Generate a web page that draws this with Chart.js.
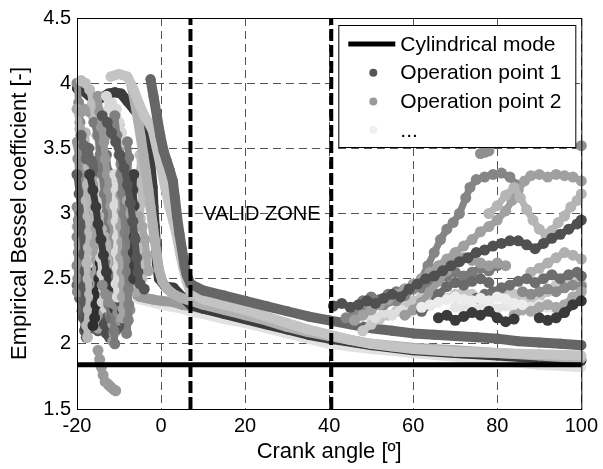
<!DOCTYPE html>
<html>
<head>
<title>Empirical Bessel coefficient</title>
<script src="https://cdn.jsdelivr.net/npm/chart.js"></script>
<style>
  body { margin: 0; background: #fff; }
  #chart { display: block; }
</style>
</head>
<body>
<canvas id="chart" width="603" height="469"></canvas>
<script>
// axis limits and ticks
const xLimits = [-20, 100];
const yLimits = [1.5, 4.5];
const xStep = 20;
const yStep = 0.5;

// reference lines
const cylindricalMode = 1.84;
const validZone = [7, 40.5];
const validZoneLabel = { text: 'VALID ZONE', x: 24, y: 3 };

// legend entries
const legendLabels = ['Cylindrical mode', 'Operation point 1', 'Operation point 2', '...'];
const legendColors = ['#000000', '#555555', '#9a9a9a', '#f0f0f0'];

// operation points: [crank angle, coefficient]
// trails falling into the bundle
const opB = [[-2.5,4.03],[-1.8,3.9],[-1,3.75],[-0.2,3.6],[0.6,3.48],[1.4,3.4],[2.1,3.33],[2.8,3.25],[3.3,3.12],[3.8,2.98],[4.4,2.84],[5,2.72],[5.6,2.6],[6.1,2.53],[7,2.46],[10,2.41],[15,2.37],[20,2.33],[25,2.29],[30,2.25],[35,2.21],[40,2.18],[45,2.15],[50,2.12],[55,2.1],[60,2.08],[65,2.07],[70,2.06],[75,2.05],[80,2.04],[85,2.02],[90,2.01],[95,2.0],[100,1.99]];
const opC = [[-12,4.05],[-10,4.07],[-8,4.05],[-6.5,3.95],[-5.2,3.84],[-4,3.75],[-3,3.7],[-2,3.64],[-1,3.5],[0,3.35],[1,3.2],[2,3.05],[3,2.93],[3.7,2.84],[4.5,2.7],[5.3,2.58],[6.1,2.48],[7,2.4],[10,2.34],[15,2.3],[20,2.26],[25,2.21],[30,2.16],[35,2.11],[40,2.07],[45,2.03],[50,2.0],[55,1.98],[60,1.96],[70,1.94],[80,1.93],[90,1.92],[100,1.91]];
const opF = [[-7,3.98],[-6.2,3.85],[-5.5,3.72],[-4.8,3.58],[-4.2,3.45],[-3.6,3.32],[-3,3.18],[-2.5,3.05],[-2,2.92],[-1.5,2.8],[-1,2.68],[-0.5,2.57],[0.3,2.48],[1.5,2.42],[3,2.38],[5,2.35],[7,2.33],[10,2.3],[15,2.26],[20,2.22],[25,2.18],[30,2.13],[35,2.09],[40,2.06],[50,2.0],[60,1.97],[70,1.95],[80,1.93],[90,1.91],[100,1.89]];
const opA = [[-20,3.96],[-18.5,3.94],[-17,3.9],[-15.5,3.88],[-14,3.89],[-12.5,3.92],[-11,3.93],[-9.5,3.92],[-8,3.86],[-6.5,3.8],[-5,3.74],[-4,3.68],[-3,3.52],[-2.5,3.36],[-2,3.2],[-1.8,3.05],[-1.5,2.9],[-1.2,2.75],[-1,2.62],[-0.5,2.5],[1,2.44],[3,2.43],[5,2.36],[7,2.3],[10,2.27],[15,2.23],[20,2.19],[25,2.15],[30,2.11],[35,2.07],[40,2.04],[50,1.99],[60,1.95],[70,1.93],[80,1.91],[90,1.89],[100,1.87]];
const opD = [[-20,3.55],[-19,3.4],[-18.5,3.25],[-18,3.1],[-17.3,2.95],[-16.5,2.82],[-15.5,2.7],[-14.5,2.6],[-13,2.52],[-11.5,2.48],[-10,2.45],[-8.5,2.42],[-7,2.4],[-5,2.36],[-2,2.34],[0,2.33],[3,2.32],[5,2.3],[7,2.29],[10,2.27],[15,2.24],[20,2.2],[25,2.16],[30,2.12],[35,2.08],[40,2.05],[45,2.02],[50,1.99],[60,1.96],[70,1.93],[80,1.92],[90,1.9],[100,1.88]];
const opE = [[-8,2.38],[-5,2.34],[0,2.3],[5,2.27],[7,2.25],[10,2.23],[15,2.19],[20,2.16],[25,2.12],[30,2.08],[35,2.04],[40,2.0],[45,1.98],[50,1.96],[60,1.93],[70,1.9],[80,1.87],[90,1.84],[100,1.82]];

// scattered start of the cycle
const opG = [[-16,3.7],[-15,3.6],[-14.5,3.45],[-14,3.3],[-13.5,3.15],[-13,3.0],[-12.6,2.85],[-12.2,2.7],[-11.8,2.55],[-11.5,2.4],[-11.3,2.25],[-11.2,2.1],[-11,2.0]];
const opH = [[-15,1.95],[-14.6,1.88],[-14.2,1.82],[-13.8,1.76],[-13.3,1.71],[-12.6,1.69],[-12,1.67],[-11.3,1.65],[-10.8,1.64]];
const opI = [[-20,3.3],[-19.5,3.15],[-19,3.0],[-18.7,2.85],[-18.3,2.7],[-18,2.55],[-17.5,2.42],[-17,2.3],[-16.5,2.2],[-16,2.12],[-15,2.1],[-14,2.14],[-13,2.2]];
const opJ = [[-20,3.8],[-19.3,3.65],[-18.5,3.52],[-17.5,3.45],[-16.5,3.38],[-15.5,3.3],[-14.5,3.2],[-13.5,3.1],[-12.5,2.98],[-11.5,2.86],[-10.5,2.74],[-9.5,2.62],[-8.5,2.52],[-7.5,2.45],[-6,2.4]];
const opK = [[-17,3.3],[-16.2,3.18],[-15.5,3.05],[-15,2.92],[-14.3,2.8],[-13.7,2.68],[-13,2.55],[-12.3,2.44],[-11.7,2.35],[-11,2.27]];
const opL = [[-20,2.9],[-19.3,2.78],[-18.6,2.66],[-18,2.55],[-17.2,2.47],[-16.3,2.4],[-15.3,2.35],[-14.3,2.3],[-13.3,2.27],[-12,2.25],[-10.5,2.28],[-9,2.3]];
const opM = [[-11,3.75],[-10.5,3.6],[-10,3.45],[-9.6,3.3],[-9.2,3.15],[-8.9,3.0],[-8.6,2.85],[-8.3,2.7],[-8,2.55],[-7.8,2.42],[-7.7,2.3],[-7.8,2.18],[-8.2,2.08]];
const opN = [[-19,4.02],[-18,4.0],[-17,3.95],[-16.3,3.85],[-15.8,3.72],[-15.3,3.6],[-14.6,3.5],[-13.8,3.42],[-13,3.35],[-12.2,3.25],[-11.4,3.12],[-10.7,2.98],[-10,2.85],[-9.4,2.72],[-8.8,2.6],[-8.2,2.5],[-7.5,2.45]];
const opO = [[-20,2.45],[-19.4,2.35],[-18.8,2.25],[-18.2,2.2],[-17.5,2.15],[-16.8,2.12]];
const opP = [[-19,3.78],[-18,3.8],[-17,3.78],[-16,3.74],[-15,3.68],[-14,3.62],[-13,3.6],[-12,3.62],[-11,3.66],[-10,3.68]];
const opQ = [[-14,3.75],[-12.8,3.7],[-11.8,3.62],[-10.8,3.55],[-9.8,3.45],[-8.8,3.35],[-8,3.22],[-7.3,3.08],[-6.7,2.94],[-6.2,2.8],[-5.8,2.66],[-5.5,2.55],[-5,2.46],[-4,2.42]];
const opS = [[-17,2.45],[-16,2.35],[-15,2.28],[-14,2.22],[-13,2.2],[-12,2.25],[-10,2.3],[-8,2.35]];
const opT1 = [[-20,4.0],[-19.6,3.85],[-19.3,3.7],[-19.5,3.55],[-19.8,3.42],[-19.6,3.28],[-19.2,3.15],[-19.5,3.02],[-19.8,2.9],[-19.5,2.76],[-19.2,2.62],[-19.6,2.5],[-19.9,2.4]];
const opT2 = [[-18,3.62],[-17.6,3.48],[-17.2,3.36],[-17.5,3.22],[-17.8,3.1],[-17.4,2.98],[-17,2.86],[-17.3,2.74],[-17.7,2.62],[-17.4,2.5],[-17,2.38],[-17.3,2.26],[-17.7,2.14],[-17.5,2.05]];
const opT3 = [[-16,2.55],[-16.4,2.44],[-16.8,2.33],[-17.2,2.25],[-17.6,2.18],[-18,2.12]];
const opT4 = [[-15,3.9],[-14.6,3.78],[-14.2,3.66],[-13.6,3.55],[-13.3,3.42],[-12.8,3.3],[-12.5,3.18],[-12,3.06],[-11.6,2.94],[-11.2,2.82],[-10.9,2.7],[-10.6,2.58],[-10.3,2.46],[-10,2.36],[-9.8,2.26],[-9.6,2.18]];
const opT5 = [[-14,3.5],[-13.6,3.38],[-14,3.26],[-14.4,3.14],[-14,3.02],[-13.6,2.9],[-14,2.78],[-14.4,2.66],[-14.1,2.54],[-13.7,2.42],[-14,2.32]];
const opT6 = [[-13,3.45],[-12.6,3.32],[-12.9,3.2],[-12.3,3.1],[-12.6,2.98],[-12.2,2.86],[-12.5,2.74],[-12.1,2.62],[-12.4,2.5],[-12,2.4],[-12.3,2.3],[-12,2.2]];
const opT7 = [[-10,3.5],[-9.6,3.38],[-9.3,3.26],[-9.6,3.14],[-9.3,3.02],[-9.6,2.9],[-9.3,2.78],[-9.6,2.66],[-9.3,2.55],[-9,2.45],[-9.2,2.36],[-9,2.27],[-9.3,2.2]];
const opT8 = [[-6.5,3.3],[-6.7,3.18],[-6.4,3.06],[-6.7,2.94],[-6.4,2.82],[-6.6,2.7],[-6.3,2.6],[-6.5,2.5]];
const opT9 = [[-5,3.45],[-4.8,3.33],[-5,3.2],[-4.7,3.08],[-4.9,2.96],[-4.6,2.84],[-4.8,2.72],[-4.5,2.6],[-4.6,2.5]];
const opT10 = [[-8,3.55],[-7.7,3.43],[-7.9,3.3],[-7.6,3.18],[-7.8,3.06],[-7.5,2.94],[-7.7,2.82],[-7.4,2.7],[-7.6,2.58],[-7.3,2.48]];
const opT11 = [[-18.5,2.9],[-18.1,2.8],[-18.4,2.68],[-18.1,2.56],[-18.4,2.44],[-18.2,2.32],[-18.5,2.2],[-18.2,2.1],[-17.8,2.05]];
const opT12 = [[-16,3.25],[-15.6,3.13],[-15.9,3.01],[-15.5,2.89],[-15.8,2.77],[-15.4,2.65],[-15.7,2.53],[-15.3,2.42],[-15.5,2.32],[-15.2,2.22],[-15,2.12]];
const opT13 = [[-11,3.3],[-10.7,3.18],[-11,3.06],[-10.7,2.94],[-10.4,2.82],[-10.7,2.7],[-10.4,2.58],[-10.7,2.46],[-10.4,2.36]];
const opT14 = [[-14.5,2.62],[-14.8,2.5],[-15.2,2.4],[-15.5,2.3],[-15.8,2.2],[-16.2,2.14]];
const opT15 = [[-20,3.05],[-19.7,2.95],[-20,2.82],[-19.7,2.7],[-20,2.6],[-19.8,2.5]];
const opT16 = [[-12.5,2.3],[-12,2.22],[-11.5,2.15],[-11.2,2.08],[-11.5,2.02]];
const opT17 = [[-10,2.4],[-9.6,2.32],[-9.2,2.25],[-8.8,2.18],[-8.5,2.12]];
const opU1 = [[-14,2.45],[-13.2,2.38],[-12.5,2.32],[-11.8,2.36],[-11,2.3],[-10.3,2.24],[-9.6,2.3],[-8.8,2.25],[-8,2.2],[-7.4,2.26]];
const opU2 = [[-17,3.15],[-16.3,3.05],[-15.7,2.95],[-14.8,2.98],[-14.2,2.88],[-13.4,2.82],[-12.8,2.74],[-12.2,2.78],[-11.6,2.68],[-11,2.6],[-10.3,2.64],[-9.7,2.55],[-9,2.5]];
const opU3 = [[-19,3.6],[-18.4,3.52],[-17.8,3.42],[-17.2,3.5],[-16.6,3.4],[-16,3.32],[-15.4,3.4],[-14.8,3.3]];
const opU4 = [[-13,3.9],[-12.4,3.8],[-11.8,3.85],[-11.2,3.75],[-10.6,3.8],[-10,3.7],[-9.4,3.62],[-8.8,3.55]];
const opU5 = [[-13.5,2.15],[-13,2.08],[-12.3,2.05],[-11.6,2.12],[-10.8,2.1],[-10.2,2.17]];
const opU6 = [[-8,3.1],[-7.2,3.0],[-6,2.9],[-5.4,2.98],[-4.5,2.9],[-3.8,2.8],[-3.4,2.68],[-3,2.56]];

// unstable end of the cycle
const opR1 = [[41,2.29],[43,2.31],[45,2.28],[47,2.3],[49,2.33],[51,2.31],[53,2.35],[55,2.38],[57,2.36],[59,2.42],[61,2.46],[63,2.5],[65,2.52],[67,2.56],[69,2.6],[71,2.63],[73,2.66],[75,2.7],[77,2.72],[79,2.75],[81,2.77],[83,2.79],[85,2.79],[87,2.76],[89,2.73],[91,2.77],[93,2.81],[95,2.84],[97,2.88],[99,2.92],[100,2.95]];
const opR2 = [[44,2.2],[47,2.24],[50,2.28],[53,2.3],[56,2.33],[58,2.37],[60,2.42],[62,2.5],[63.5,2.6],[65,2.7],[66.5,2.8],[68,2.88],[69.5,2.93],[71,3.0],[72.5,3.12],[73.5,3.2],[75,3.26],[77,3.28],[79,3.3],[81,3.31],[83,3.28],[84.5,3.22]];
const opR3 = [[46,2.18],[48,2.22],[50,2.26],[52,2.3],[54,2.34],[56,2.38],[58,2.42],[60,2.46],[62,2.5],[64,2.55],[66,2.6],[68,2.65],[70,2.7],[72,2.75],[74,2.8],[76,2.86],[78,2.9],[80,2.95],[82,3.02],[83.5,3.1],[85,3.18],[86.5,3.25],[88,3.29],[90,3.3],[92,3.28],[94,3.3],[96,3.29],[98,3.28],[100,3.25]];
const opR4 = [[78,3.0],[80,3.06],[82,3.14],[84,3.2],[85.5,3.12],[87,3.03],[88.5,2.95],[90,2.88],[91.5,2.84],[93,2.87],[94.5,2.93],[96,2.98],[97.5,3.05],[99,3.1],[100,3.15]];
const opR6 = [[48,2.1],[50,2.15],[52,2.19],[54,2.22],[56,2.25],[58,2.3],[60,2.33],[62,2.36],[64,2.38],[66,2.36],[68,2.35],[70,2.38],[72,2.4],[74,2.38],[76,2.35],[78,2.37],[80,2.4],[82,2.42],[84,2.38],[86,2.36],[88,2.33],[90,2.36],[92,2.4],[94,2.45],[96,2.5],[98,2.48],[100,2.46]];
const opR7 = [[46,2.28],[48,2.33],[50,2.36],[52,2.34],[54,2.38],[56,2.4],[58,2.42],[60,2.45],[62,2.43],[64,2.47],[66,2.5],[68,2.52],[70,2.55],[72,2.52],[74,2.55],[76,2.58],[78,2.56],[80,2.6]];
const opR8 = [[66,2.2],[68,2.22],[70,2.18],[72,2.21],[74,2.24],[76,2.22],[78,2.25],[80,2.2],[82,2.17],[84,2.19]];
const opR9 = [[90,2.2],[92,2.18],[94,2.2],[96,2.24],[98,2.3],[100,2.33]];
const opR10 = [[75,2.35],[77,2.38],[79,2.4],[81,2.43],[83,2.45],[85,2.48],[87,2.5],[89,2.47],[91,2.5],[93,2.53],[95,2.5],[97,2.53],[99,2.55],[100,2.52]];
const opR11 = [[62,2.28],[64,2.3],[66,2.32],[68,2.34],[70,2.36],[72,2.34],[74,2.33],[76,2.35],[78,2.33],[80,2.36],[82,2.34],[84,2.31],[86,2.3]];
const opR12 = [[84,2.22],[86,2.26],[88,2.25],[90,2.28],[92,2.3],[94,2.28],[96,2.3],[98,2.36],[100,2.4]];
const opR13 = [[76,3.46],[77,3.47],[78,3.48]];
const opR14 = [[100,3.52]];
const opR15 = [[47,2.2],[49,2.22],[51,2.2],[53,2.24],[55,2.22],[57,2.26],[59,2.24],[61,2.27]];
const opV1 = [[58,2.22],[60,2.26],[62,2.32],[64,2.4],[66,2.48],[68,2.56],[70,2.62],[72,2.66],[74,2.64],[76,2.62],[78,2.6],[80,2.62],[82,2.6]];
const opV2 = [[62,2.25],[64,2.3],[66,2.38],[68,2.44],[70,2.47],[72,2.45],[74,2.48],[76,2.5],[78,2.47]];
const opV3 = [[70,2.28],[72,2.27],[74,2.3],[76,2.28],[78,2.3],[80,2.27],[82,2.29],[84,2.27],[86,2.26],[88,2.28],[90,2.3],[92,2.28],[94,2.26]];
const opV4 = [[86,2.4],[88,2.38],[90,2.4],[92,2.42],[94,2.4],[96,2.43],[98,2.45],[100,2.44]];
const opV5 = [[88,2.55],[90,2.58],[92,2.62],[94,2.66],[96,2.7],[98,2.68],[100,2.65]];

// trail styles: first entry is drawn on top, "smooth" ones are the bundle
const trails = [
  { data: opR13, color: '#8f8f8f' },
  { data: opR14, color: '#8f8f8f' },
  { data: opR8, color: '#3a3a3a' },
  { data: opR9, color: '#3a3a3a' },
  { data: opR11, color: '#ececec' },
  { data: opR12, color: '#a8a8a8' },
  { data: opR10, color: '#6e6e6e' },
  { data: opR1, color: '#505050' },
  { data: opR4, color: '#b5b5b5' },
  { data: opR3, color: '#a0a0a0' },
  { data: opR2, color: '#858585' },
  { data: opV5, color: '#b0b0b0' },
  { data: opV4, color: '#8a8a8a' },
  { data: opV2, color: '#6a6a6a' },
  { data: opV1, color: '#9c9c9c' },
  { data: opR7, color: '#7a7a7a' },
  { data: opV3, color: '#e6e6e6' },
  { data: opR15, color: '#dedede' },
  { data: opR6, color: '#c6c6c6' },
  { data: opH, color: '#9a9a9a' },
  { data: opB, color: '#666666', smooth: true },
  { data: opC, color: '#c4c4c4', smooth: true },
  { data: opF, color: '#b0b0b0', smooth: true },
  { data: opQ, color: '#555555' },
  { data: opU6, color: '#a6a6a6' },
  { data: opT8, color: '#3f3f3f' },
  { data: opT9, color: '#bdbdbd' },
  { data: opT10, color: '#7d7d7d' },
  { data: opM, color: '#808080' },
  { data: opU4, color: '#d8d8d8' },
  { data: opT7, color: '#a4a4a4' },
  { data: opT13, color: '#dadada' },
  { data: opT17, color: '#565656' },
  { data: opU1, color: '#8c8c8c' },
  { data: opK, color: '#3a3a3a' },
  { data: opT4, color: '#969696' },
  { data: opU2, color: '#b2b2b2' },
  { data: opG, color: '#7a7a7a' },
  { data: opT6, color: '#6f6f6f' },
  { data: opT16, color: '#9e9e9e' },
  { data: opU5, color: '#4e4e4e' },
  { data: opT5, color: '#cfcfcf' },
  { data: opT14, color: '#2f2f2f' },
  { data: opT12, color: '#a0a0a0' },
  { data: opU3, color: '#666666' },
  { data: opN, color: '#bdbdbd' },
  { data: opP, color: '#9c9c9c' },
  { data: opJ, color: '#a8a8a8' },
  { data: opT2, color: '#b8b8b8' },
  { data: opT3, color: '#4a4a4a' },
  { data: opT11, color: '#5a5a5a' },
  { data: opI, color: '#5c5c5c' },
  { data: opT1, color: '#8a8a8a' },
  { data: opT15, color: '#878787' },
  { data: opO, color: '#6a6a6a' },
  { data: opL, color: '#d2d2d2' },
  { data: opS, color: '#ededed' },
  { data: opA, color: '#3c3c3c', smooth: true },
  { data: opD, color: '#9a9a9a', smooth: true },
  { data: opE, color: '#e2e2e2', smooth: true }
];

const font = 'Arial, "Liberation Sans", sans-serif';

const datasets = [
  {
    data: [[xLimits[0], cylindricalMode], [xLimits[1], cylindricalMode]],
    borderColor: '#000', borderWidth: 5, pointRadius: 0, showLine: true
  },
  ...validZone.map(x => ({
    data: [[x, yLimits[0]], [x, yLimits[1]]],
    borderColor: '#000', borderWidth: 4, borderDash: [12, 4], pointRadius: 0, showLine: true
  })),
  ...trails.map(t => ({
    data: t.data,
    showLine: true,
    borderColor: t.color,
    backgroundColor: t.color,
    borderWidth: t.smooth ? 10 : 7,
    borderCapStyle: 'round',
    borderJoinStyle: 'round',
    pointRadius: t.smooth ? 5 : 5.5,
    pointBorderWidth: 0,
    pointBackgroundColor: t.color,
    clip: false
  }))
];

// frame, zone label and legend box
const overlay = {
  id: 'overlay',
  afterDatasetsDraw(chart) {
    const { ctx, chartArea: a, scales } = chart;
    ctx.save();
    ctx.strokeStyle = '#000';
    ctx.lineWidth = 1;
    ctx.strokeRect(a.left + 0.5, a.top + 0.5, a.right - a.left, a.bottom - a.top);

    ctx.fillStyle = '#000';
    ctx.font = '20px ' + font;
    ctx.textAlign = 'center';
    ctx.textBaseline = 'middle';
    ctx.fillText(validZoneLabel.text, scales.x.getPixelForValue(validZoneLabel.x), scales.y.getPixelForValue(validZoneLabel.y) + 1);

    const w = 237, h = 122;
    const bx = a.right - 6 - w, by = a.top + 7;
    ctx.fillStyle = '#fff';
    ctx.fillRect(bx, by, w, h);
    ctx.strokeRect(bx + 0.5, by + 0.5, w, h);
    ctx.font = '21px ' + font;
    ctx.textAlign = 'left';
    legendLabels.forEach((label, i) => {
      const cy = by + 19 + i * 28.7;
      if (i === 0) {
        ctx.strokeStyle = legendColors[i];
        ctx.lineWidth = 5;
        ctx.beginPath();
        ctx.moveTo(bx + 10, cy);
        ctx.lineTo(bx + 57, cy);
        ctx.stroke();
      } else {
        ctx.fillStyle = legendColors[i];
        ctx.beginPath();
        ctx.arc(bx + 35, cy, 4, 0, Math.PI * 2);
        ctx.fill();
      }
      ctx.fillStyle = '#000';
      ctx.fillText(label, bx + 62, cy + 1);
    });
    ctx.restore();
  }
};

new Chart(document.getElementById('chart'), {
  type: 'scatter',
  data: { datasets },
  options: {
    responsive: false,
    animation: false,
    layout: { padding: { top: 14, right: 20, left: 0, bottom: 0 } },
    plugins: { legend: { display: false }, tooltip: { enabled: false } },
    scales: {
      x: {
        min: xLimits[0], max: xLimits[1],
        ticks: { stepSize: xStep, color: '#000', padding: 5, font: { family: font, size: 20 } },
        grid: { color: '#555', lineWidth: 1, drawTicks: false },
        border: { display: true, color: '#000', dash: [8, 5] },
        title: { display: true, text: 'Crank angle [º]', color: '#000', font: { family: font, size: 22 }, padding: { bottom: 4 } },
        afterFit: s => { s.height = 60; }
      },
      y: {
        min: yLimits[0], max: yLimits[1],
        ticks: { stepSize: yStep, color: '#000', padding: 6, font: { family: font, size: 20 }, callback: v => String(v) },
        grid: { color: '#555', lineWidth: 1, drawTicks: false },
        border: { display: true, color: '#000', dash: [8, 5] },
        title: { display: true, text: 'Empirical Bessel coefficient [-]', color: '#000', font: { family: font, size: 22 }, padding: { top: 7 } },
        afterFit: s => { s.width = 77; }
      }
    }
  },
  plugins: [overlay]
});
</script>
</body>
</html>
